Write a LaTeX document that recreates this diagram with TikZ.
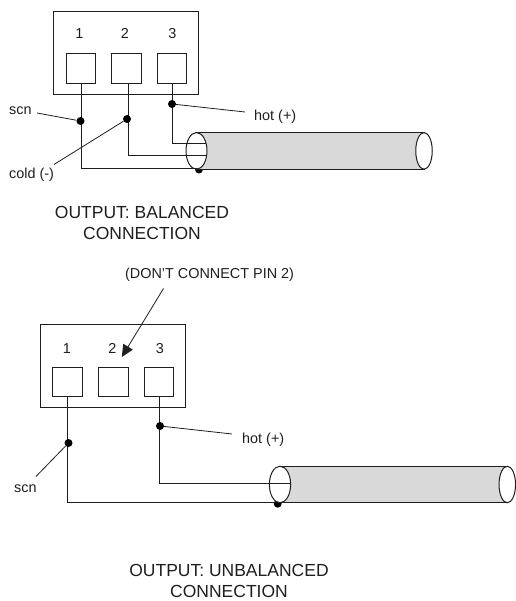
\documentclass[tikz,border=0pt]{standalone}
\usepackage{fontspec}
\setmainfont{Liberation Sans}
\usetikzlibrary{arrows.meta,shapes.geometric,calc}
\definecolor{ln}{HTML}{1E1E1E}
\definecolor{cablefill}{HTML}{D9D9D9}
\tikzset{
  boxshape/.style={draw=ln,line width=1pt,fill=white,inner sep=0pt,outer sep=0pt},
  shell/.style={boxshape,minimum width=#1,minimum height=83pt},
  pinbox/.style={boxshape,minimum width=29.5pt,minimum height=29.5pt},
  wire/.style={draw=ln,line width=1pt},
  leader/.style={draw=ln,line width=0.8pt},
  dot/.style={circle,fill=black,inner sep=0pt,minimum size=8pt},
  lbl/.style={font=\fontsize{14.4}{16}\selectfont,text=ln,inner sep=0pt},
  titletext/.style={font=\fontsize{17.5}{21}\selectfont,text=ln,inner sep=0pt,align=center},
  endcap/.style={ellipse,draw=ln,line width=1pt,fill=white,inner sep=0pt,outer sep=0pt},
  body/.style={draw=ln,line width=1.1pt,fill=cablefill}
}
\begin{document}
\begin{tikzpicture}[x=1pt,y=-1pt]
\useasboundingbox (0,0) rectangle (515,601);
% ---------- balanced ----------
\node[shell=145.5pt] (A) at (126.2,52.8) {};
\node[pinbox] (A1) at (81,68.5) {};
\node[pinbox] (A2) at (126.4,68.5) {};
\node[pinbox] (A3) at (172,68.5) {};
\node[lbl] (A1t) at (79.3,34) {1};
\node[lbl] (A2t) at (124.8,33.6) {2};
\node[lbl] (A3t) at (172.5,34) {3};
\node[dot] (Ag) at (199,169.5) {};
\draw[body] (196,132.6) -- (424,132.6) -- (424,169.2) -- (196,169.2) -- cycle;
\node[endcap,minimum width=16.5pt,minimum height=36.6pt] (Ar) at (424,150.9) {};
\node[endcap,minimum width=21pt,minimum height=36.6pt] (Al) at (196.5,150.9) {};
\coordinate (Aw3) at (205.5,144);
\coordinate (Aw2) at (205.5,156);
\coordinate (Aw1) at (196.5,168.8);
\draw[wire] (81.7,83.2) |- (Aw1);
\draw[wire] (128,83.2) |- (Aw2);
\draw[wire] (172.6,83.2) |- (Aw3);
\node[dot] (Ad1) at (80.5,121) {};
\node[dot] (Ad2) at (127,119) {};
\node[dot] (Ad3) at (172,104) {};
\node[lbl,anchor=west] (As) at (9,111) {scn};
\node[lbl,anchor=west] (Ac) at (9,175) {cold (-)};
\node[lbl,anchor=west] (Ah) at (254,116.5) {hot (+)};
\coordinate (Asl) at (37,113);
\coordinate (Acl) at (54,164.5);
\coordinate (Ahl) at (245,112);
\draw[leader] (Asl) -- (Ad1);
\draw[leader] (Acl) -- (Ad2);
\draw[leader] (Ad3) -- (Ahl);
\node[titletext] (At) at (142,223) {OUTPUT: BALANCED\\CONNECTION};
% ---------- unbalanced ----------
\node[shell=145.5pt] (B) at (113.2,366) {};
\node[pinbox] (B1) at (67.7,382.2) {};
\node[pinbox] (B2) at (113.4,382.2) {};
\node[pinbox] (B3) at (159.2,382.2) {};
\node[lbl] (B1t) at (66.8,348.5) {1};
\node[lbl] (B2t) at (112.3,348) {2};
\node[lbl] (B3t) at (160,348.5) {3};
\node[dot] (Bg) at (277.7,503.7) {};
\draw[body] (280,466.3) -- (507.5,466.3) -- (507.5,502.8) -- (280,502.8) -- cycle;
\node[endcap,minimum width=16.5pt,minimum height=36.5pt] (Br) at (507.3,484.5) {};
\node[endcap,minimum width=21.3pt,minimum height=36.5pt] (Bl) at (280,484.5) {};
\coordinate (Bw3) at (290.5,483.5);
\coordinate (Bw1) at (280,502.6);
\draw[wire] (67.5,397) |- (Bw1);
\draw[wire] (159.5,397) |- (Bw3);
\node[dot] (Bd1) at (68.5,443) {};
\node[dot] (Bd3) at (160,426) {};
\node[lbl,anchor=west] (Bs) at (14,489) {scn};
\node[lbl,anchor=west] (Bh) at (242,439.5) {hot (+)};
\coordinate (Bsl) at (36,476.5);
\coordinate (Bhl) at (232,434);
\draw[leader] (Bsl) -- (Bd1);
\draw[leader] (Bd3) -- (Bhl);
\node[lbl,anchor=west] (Bn) at (125,274.7) {(DON'T CONNECT PIN 2)};
\coordinate (Bns) at (163.5,288.5);
\coordinate (Bne) at (121.8,357);
\draw[leader,-{Triangle[length=12pt,width=11pt]}] (Bns) -- (Bne);
\node[titletext] (Bt) at (229,581.3) {OUTPUT: UNBALANCED\\CONNECTION};
\end{tikzpicture}
\end{document}
